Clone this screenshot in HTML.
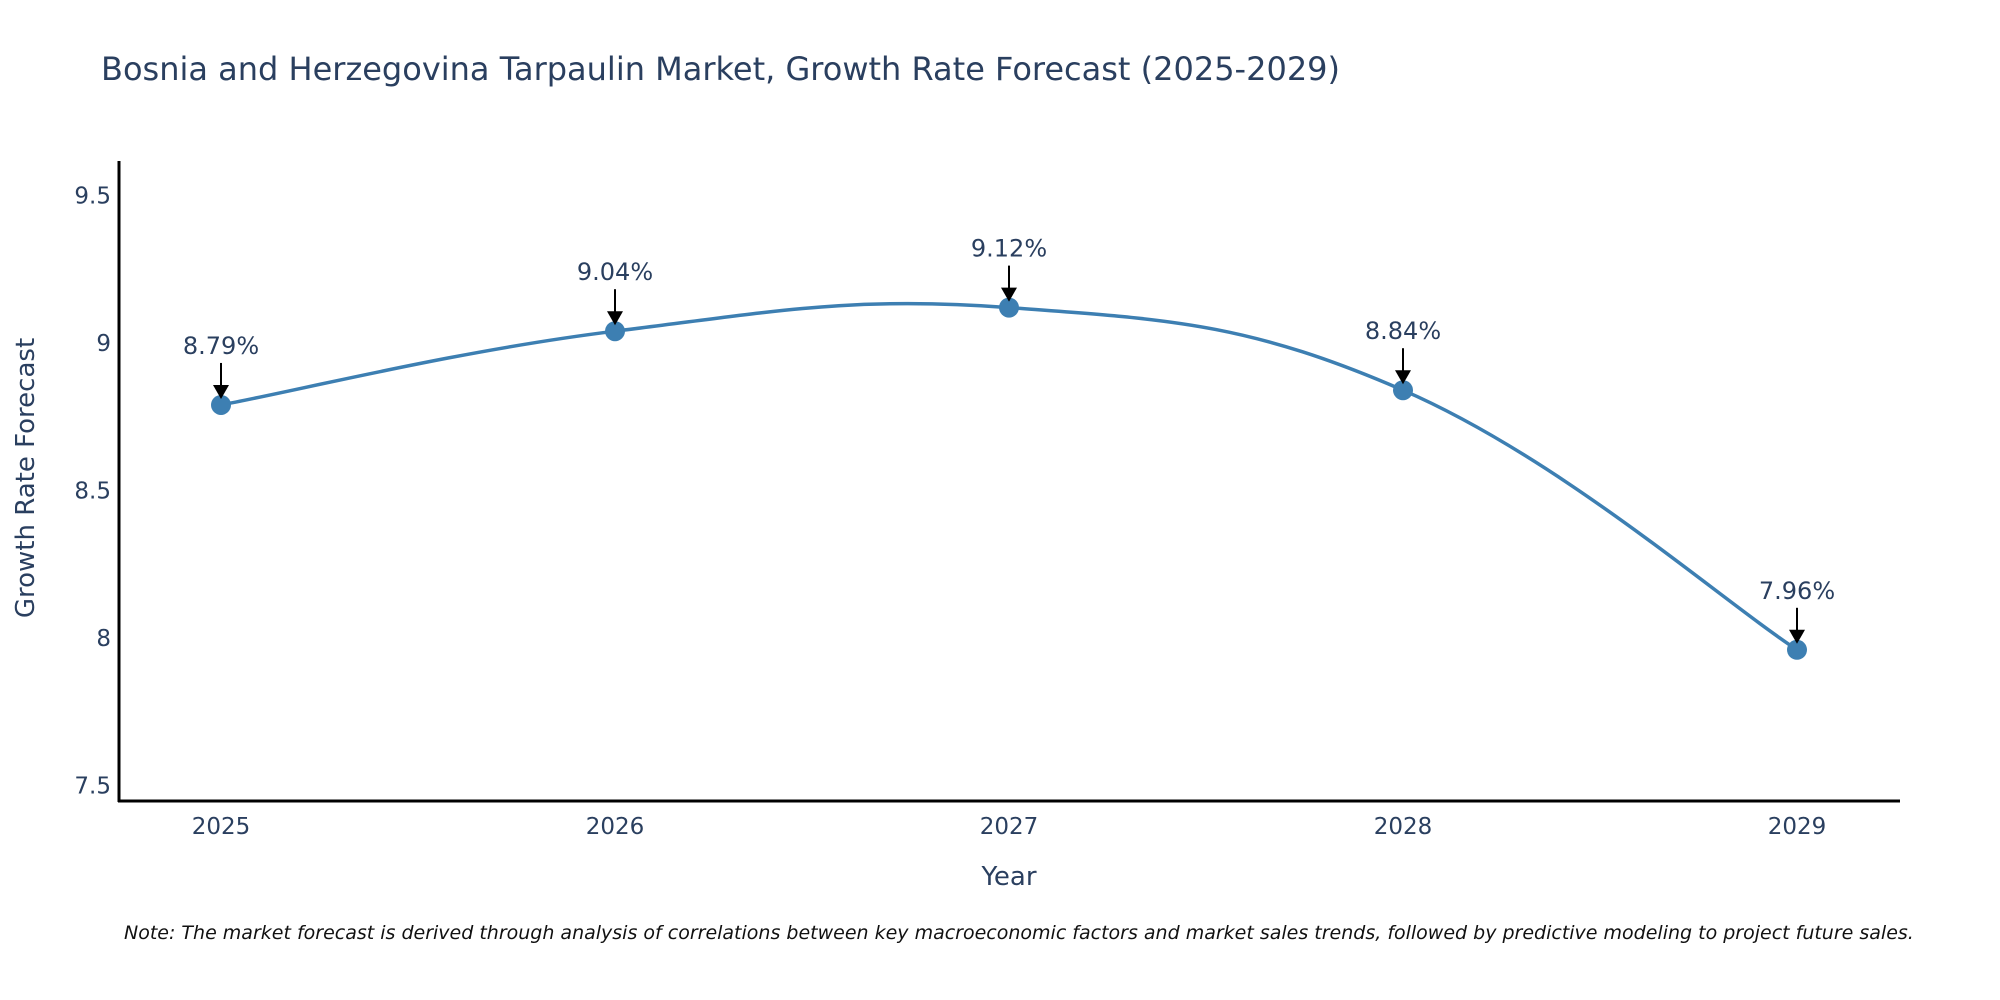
<!DOCTYPE html>
<html><head><meta charset="utf-8"><style>
body{margin:0;background:#fff;}
svg{display:block;font-family:"DejaVu Sans","Liberation Sans",sans-serif;}
</style></head><body>
<svg id="chart" width="2000" height="1000" viewBox="0 0 2000 1000">
<text x="101" y="80" font-size="32" fill="#2a3f5f">Bosnia and Herzegovina Tarpaulin Market, Growth Rate Forecast (2025-2029)</text>
<g id="yticks"></g>
<g id="xticks"></g>
<line x1="119" y1="161" x2="119" y2="802" stroke="#000" stroke-width="3"/>
<line x1="118" y1="801" x2="1900" y2="801" stroke="#000" stroke-width="3"/>
<text transform="translate(34,478) rotate(-90)" text-anchor="middle" font-size="26" fill="#2a3f5f">Growth Rate Forecast</text>
<text x="1009" y="885" text-anchor="middle" font-size="26" fill="#2a3f5f">Year</text>
<g id="series"></g>
<text x="124" y="939" font-size="19" font-style="italic" fill="#111">Note: The market forecast is derived through analysis of correlations between key macroeconomic factors and market sales trends, followed by predictive modeling to project future sales.</text>
</svg>
<script>
const years = [2025, 2026, 2027, 2028, 2029];
const growth = [8.79, 9.04, 9.12, 8.84, 7.96];
const yTickValues = [7.5, 8, 8.5, 9, 9.5];
const yTickLabels = ["7.5", "8", "8.5", "9", "9.5"];

const NS = "http://www.w3.org/2000/svg";
function xScale(yr){ return 221 + (yr - 2025) * 394; }
function yScale(v){ return 343 + (9 - v) * 295; }
function mk(tag, attrs, parent){ const e = document.createElementNS(NS, tag); for (const k in attrs) e.setAttribute(k, attrs[k]); parent.appendChild(e); return e; }

const yg = document.getElementById('yticks');
yTickValues.forEach((v, i) => {
  const t = mk('text', {x: 111, y: yScale(v) + 8, 'text-anchor': 'end', 'font-size': 23, fill: '#2a3f5f'}, yg);
  
  
  t.textContent = yTickLabels[i];
});
const xg = document.getElementById('xticks');
years.forEach(yr => {
  const t = mk('text', {x: xScale(yr), y: 834, 'text-anchor': 'middle', 'font-size': 23, fill: '#2a3f5f'}, xg);
  
  
  t.textContent = String(yr);
});

const sg = document.getElementById('series');
const pts = years.map((yr, i) => [xScale(yr), yScale(growth[i])]);
let d = 'M' + pts[0][0] + ',' + pts[0][1];
const k = 0.2;
for (let i = 0; i < pts.length - 1; i++) {
  const p0 = pts[Math.max(0, i - 1)], p1 = pts[i], p2 = pts[i + 1], p3 = pts[Math.min(pts.length - 1, i + 2)];
  const c1 = [p1[0] + (p2[0] - p0[0]) * k, p1[1] + (p2[1] - p0[1]) * k];
  const c2 = [p2[0] - (p3[0] - p1[0]) * k, p2[1] - (p3[1] - p1[1]) * k];
  d += ' C' + c1.join(',') + ' ' + c2.join(',') + ' ' + p2.join(',');
}
const line = mk('path', {d: d, fill: 'none', stroke: '#3d7fb2', 'stroke-width': 3.5}, sg);



pts.forEach((p, i) => {
  const c = mk('circle', {cx: p[0], cy: p[1], r: 10, fill: '#3d7fb2'}, sg);
  
  
  const a = mk('line', {x1: p[0], y1: p[1] - 42, x2: p[0], y2: p[1] - 18, stroke: '#000', 'stroke-width': 2}, sg);
  
  
  const h = mk('polygon', {points: (p[0]-8)+','+(p[1]-20)+' '+(p[0]+8)+','+(p[1]-20)+' '+p[0]+','+(p[1]-6), fill: '#000'}, sg);
  
  
  const t = mk('text', {x: p[0], y: p[1] - 51, 'text-anchor': 'middle', 'font-size': 24, fill: '#2a3f5f'}, sg);
  
  
  t.textContent = growth[i].toFixed(2) + '%';
});
</script>
</body></html>
